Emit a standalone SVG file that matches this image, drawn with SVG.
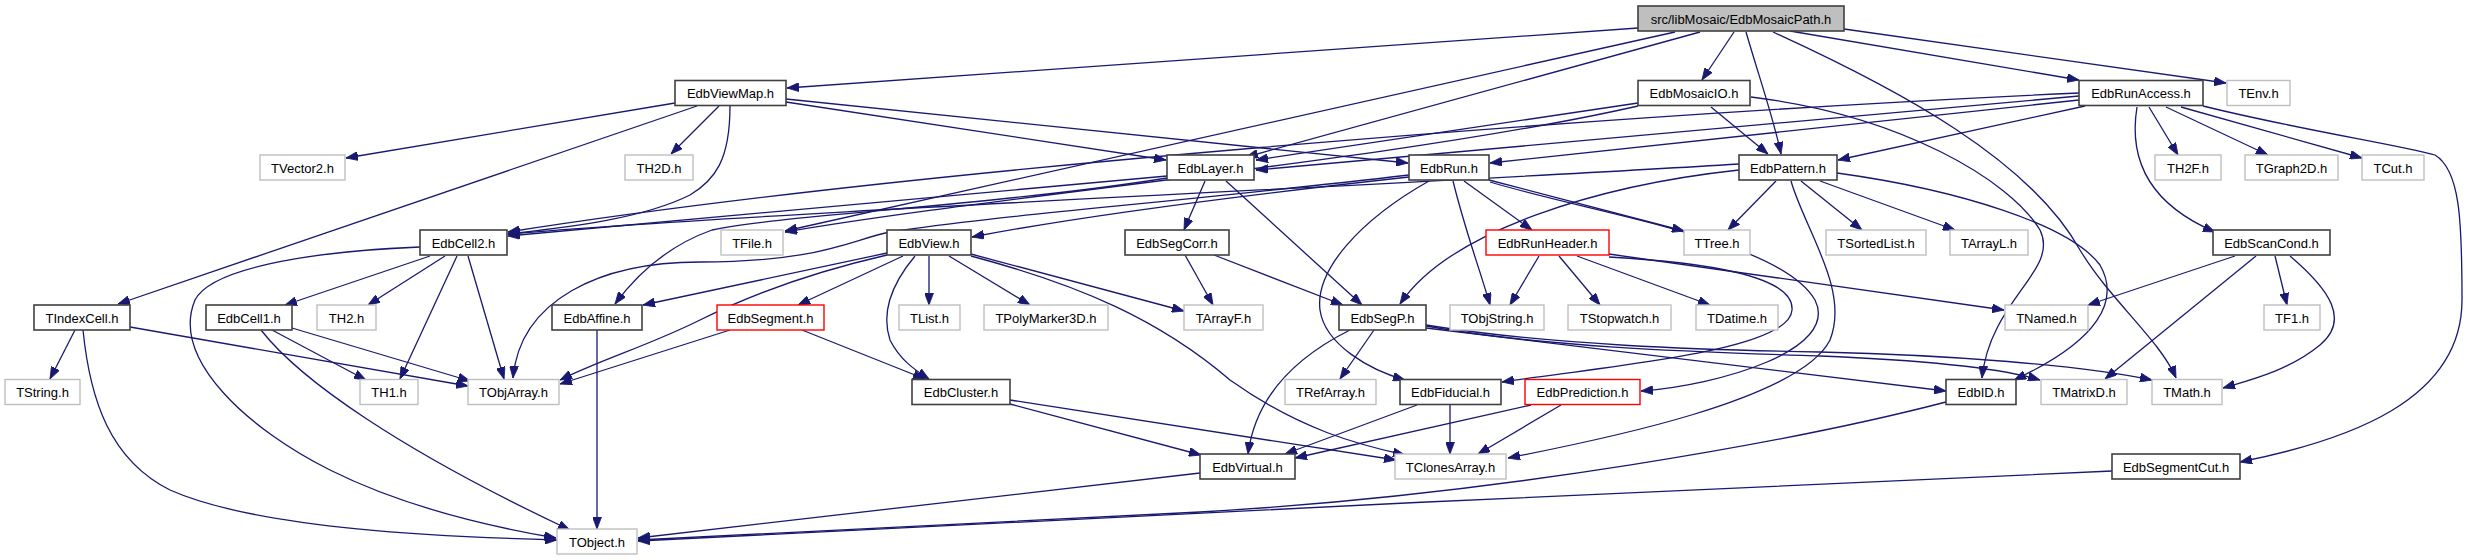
<svg xmlns="http://www.w3.org/2000/svg" width="2468" height="560" viewBox="0 0 2468 560">
<style>
.n rect{fill:#ffffff;stroke:#404040;stroke-width:1.6}
.g rect{fill:#ffffff;stroke:#bfbfbf;stroke-width:1.4}
.r rect{fill:#ffffff;stroke:#ff0000;stroke-width:1.4}
.m rect{fill:#bfbfbf;stroke:#404040;stroke-width:1.6}
text{font-family:"Liberation Sans",Arial,sans-serif;font-size:13px;fill:#000;text-anchor:middle}
#edges path{fill:none;stroke:#191970;stroke-width:1.3;marker-end:url(#ah)}
</style>
<defs>
<marker id="ah" viewBox="0 0 12 9" refX="12" refY="4.5" markerWidth="12" markerHeight="9" markerUnits="userSpaceOnUse" orient="auto"><path d="M0,0 L12,4.5 L0,9 Z" fill="#191970" stroke="#191970" stroke-width="0.8"/></marker>
</defs>
<rect width="2468" height="560" fill="#ffffff"/>
<g id="edges">
<path d="M1638,28 L787,88"/>
<path d="M1700,32 L1246,157"/>
<path d="M1675,32 L785,231"/>
<path d="M1734,32 L1702,80"/>
<path d="M1746,32 C1760,80 1774,120 1781,154"/>
<path d="M1790,31 L2079,80"/>
<path d="M1844,29 L2226,83"/>
<path d="M1773,32 C1900,90 2030,160 2080,250 C2110,300 2160,340 2176,378"/>
<path d="M1638,103 L1256,160"/>
<path d="M1638,106 C1400,160 1000,195 785,232"/>
<path d="M1711,107 L1768,154"/>
<path d="M1751,97 C1900,115 2010,180 2040,230 C2060,270 1990,300 1982,378"/>
<path d="M2079,96 L1256,170"/>
<path d="M2079,100 L1490,163"/>
<path d="M2079,93 C1600,115 900,170 508,232"/>
<path d="M2085,106 L1838,160"/>
<path d="M2149,107 L2178,155"/>
<path d="M2166,107 L2268,155"/>
<path d="M2181,107 L2362,158"/>
<path d="M2137,107 C2130,150 2140,200 2215,232"/>
<path d="M2203,106 C2300,130 2400,145 2435,155 C2460,170 2462,220 2462,300 C2462,400 2350,440 2240,462"/>
<path d="M675,103 L346,158"/>
<path d="M697,106 L118,304"/>
<path d="M719,106 L671,154"/>
<path d="M730,106 C730,160 715,180 690,195 C640,220 560,228 508,234"/>
<path d="M786,102 L1166,160"/>
<path d="M786,99 L1408,163"/>
<path d="M1167,176 L508,236"/>
<path d="M1167,178 C1000,205 780,215 712,230 C670,245 640,270 615,304"/>
<path d="M1205,181 L1184,230"/>
<path d="M1226,181 L1362,305"/>
<path d="M1409,177 C1200,200 1050,222 972,237"/>
<path d="M1409,175 C1150,205 1000,215 890,232 C850,240 820,262 700,262 C600,262 520,300 513,378"/>
<path d="M1489,180 L1684,231"/>
<path d="M1464,181 L1532,230"/>
<path d="M1453,181 C1465,230 1480,270 1490,305"/>
<path d="M1429,181 C1360,220 1315,270 1320,310 C1325,345 1370,370 1405,380"/>
<path d="M1490,182 C1600,215 1780,240 1815,300 C1840,350 1720,385 1641,391"/>
<path d="M1776,181 L1728,230"/>
<path d="M1801,181 L1862,230"/>
<path d="M1820,181 L1955,230"/>
<path d="M1739,170 C1600,185 1450,230 1400,304"/>
<path d="M1739,164 C1400,185 800,210 508,234"/>
<path d="M1791,181 C1805,230 1850,290 1830,340 C1800,400 1600,440 1508,458"/>
<path d="M1837,173 C1960,190 2070,225 2100,265 C2120,300 2100,340 2014,380"/>
<path d="M1539,256 L1510,305"/>
<path d="M1559,256 L1600,305"/>
<path d="M1577,256 L1710,305"/>
<path d="M1609,254 L2004,310"/>
<path d="M1609,257 C1700,262 1795,275 1792,310 C1790,350 1620,365 1502,382"/>
<path d="M2235,256 L2088,305"/>
<path d="M2256,256 L2105,379"/>
<path d="M2275,256 L2287,305"/>
<path d="M2290,256 C2330,290 2350,320 2320,345 C2290,370 2250,380 2223,388"/>
<path d="M430,256 L285,305"/>
<path d="M445,256 L368,305"/>
<path d="M457,256 L400,379"/>
<path d="M468,256 L504,379"/>
<path d="M420,247 C300,252 210,270 195,300 C170,360 250,430 330,470 C400,505 480,525 556,538"/>
<path d="M75,330 L50,379"/>
<path d="M130,327 L468,386"/>
<path d="M83,330 C90,400 110,460 170,490 C260,530 450,537 557,540"/>
<path d="M272,330 L366,380"/>
<path d="M292,328 L470,381"/>
<path d="M261,330 C300,380 400,450 570,530"/>
<path d="M597,330 L597,529"/>
<path d="M887,253 L643,305"/>
<path d="M887,255 C800,275 740,300 700,320 C650,345 600,360 560,380"/>
<path d="M903,256 L798,305"/>
<path d="M915,256 C895,280 880,310 890,340 C900,360 915,370 929,379"/>
<path d="M929,256 L929,305"/>
<path d="M949,256 L1030,305"/>
<path d="M971,254 L1184,311"/>
<path d="M971,256 C1080,285 1160,320 1230,380 C1300,430 1360,445 1405,455"/>
<path d="M730,330 L560,384"/>
<path d="M802,330 L925,379"/>
<path d="M1185,255 L1213,305"/>
<path d="M1214,255 L1343,305"/>
<path d="M1374,330 L1340,379"/>
<path d="M1350,330 C1290,360 1255,400 1248,454"/>
<path d="M1426,328 L1946,391"/>
<path d="M1426,326 C1550,348 1700,352 1820,356 C1920,360 2000,368 2040,380"/>
<path d="M1426,325 C1550,345 1700,350 1820,352 C1950,355 2080,365 2152,380"/>
<path d="M1417,405 L1285,454"/>
<path d="M1450,405 L1450,454"/>
<path d="M1531,405 L1295,458"/>
<path d="M1561,405 L1478,454"/>
<path d="M1010,404 L1201,455"/>
<path d="M1010,400 L1396,460"/>
<path d="M1200,473 L638,538"/>
<path d="M1946,402 C1800,440 1500,495 1200,512 C900,528 700,536 638,540"/>
<path d="M2112,471 C1700,490 1000,520 638,541"/>
</g>
<g id="n_main" class="m"><rect x="1638" y="6" width="206" height="25"/><text x="1741" y="23.5">src/libMosaic/EdbMosaicPath.h</text></g>
<g id="n_EdbViewMap" class="n"><rect x="675" y="80.5" width="111" height="25"/><text x="730.5" y="98">EdbViewMap.h</text></g>
<g id="n_EdbMosaicIO" class="n"><rect x="1638" y="80.5" width="112" height="25"/><text x="1694" y="98">EdbMosaicIO.h</text></g>
<g id="n_EdbRunAccess" class="n"><rect x="2079" y="80.5" width="124" height="25"/><text x="2141" y="98">EdbRunAccess.h</text></g>
<g id="n_TEnv" class="g"><rect x="2227" y="80.5" width="63" height="25"/><text x="2258.5" y="98">TEnv.h</text></g>
<g id="n_TVector2" class="g"><rect x="260" y="155" width="85" height="25"/><text x="302.5" y="172.5">TVector2.h</text></g>
<g id="n_TH2D" class="g"><rect x="625" y="155" width="68" height="25"/><text x="659" y="172.5">TH2D.h</text></g>
<g id="n_EdbLayer" class="n"><rect x="1167" y="155" width="87" height="25"/><text x="1210.5" y="172.5">EdbLayer.h</text></g>
<g id="n_EdbRun" class="n"><rect x="1409" y="155" width="80" height="25"/><text x="1449" y="172.5">EdbRun.h</text></g>
<g id="n_EdbPattern" class="n"><rect x="1739" y="155" width="98" height="25"/><text x="1788" y="172.5">EdbPattern.h</text></g>
<g id="n_TH2F" class="g"><rect x="2155" y="155" width="66" height="25"/><text x="2188" y="172.5">TH2F.h</text></g>
<g id="n_TGraph2D" class="g"><rect x="2245" y="155" width="93" height="25"/><text x="2291.5" y="172.5">TGraph2D.h</text></g>
<g id="n_TCut" class="g"><rect x="2362" y="155" width="62" height="25"/><text x="2393" y="172.5">TCut.h</text></g>
<g id="n_EdbCell2" class="n"><rect x="420" y="230" width="87" height="25"/><text x="463.5" y="247.5">EdbCell2.h</text></g>
<g id="n_TFile" class="g"><rect x="721" y="230" width="62" height="25"/><text x="752" y="247.5">TFile.h</text></g>
<g id="n_EdbView" class="n"><rect x="887" y="230" width="84" height="25"/><text x="929" y="247.5">EdbView.h</text></g>
<g id="n_EdbSegCorr" class="n"><rect x="1125" y="230" width="104" height="25"/><text x="1177" y="247.5">EdbSegCorr.h</text></g>
<g id="n_EdbRunHeader" class="r"><rect x="1486" y="230" width="123" height="25"/><text x="1547.5" y="247.5">EdbRunHeader.h</text></g>
<g id="n_TTree" class="g"><rect x="1684" y="230" width="66" height="25"/><text x="1717" y="247.5">TTree.h</text></g>
<g id="n_TSortedList" class="g"><rect x="1826" y="230" width="100" height="25"/><text x="1876" y="247.5">TSortedList.h</text></g>
<g id="n_TArrayL" class="g"><rect x="1950" y="230" width="78" height="25"/><text x="1989" y="247.5">TArrayL.h</text></g>
<g id="n_EdbScanCond" class="n"><rect x="2213" y="230" width="117" height="25"/><text x="2271.5" y="247.5">EdbScanCond.h</text></g>
<g id="n_TIndexCell" class="n"><rect x="34" y="305" width="96" height="25"/><text x="82" y="322.5">TIndexCell.h</text></g>
<g id="n_EdbCell1" class="n"><rect x="206" y="305" width="86" height="25"/><text x="249" y="322.5">EdbCell1.h</text></g>
<g id="n_TH2" class="g"><rect x="317" y="305" width="59" height="25"/><text x="346.5" y="322.5">TH2.h</text></g>
<g id="n_EdbAffine" class="n"><rect x="552" y="305" width="90" height="25"/><text x="597" y="322.5">EdbAffine.h</text></g>
<g id="n_EdbSegment" class="r"><rect x="717" y="305" width="107" height="25"/><text x="770.5" y="322.5">EdbSegment.h</text></g>
<g id="n_TList" class="g"><rect x="899" y="305" width="61" height="25"/><text x="929.5" y="322.5">TList.h</text></g>
<g id="n_TPolyMarker3D" class="g"><rect x="984" y="305" width="124" height="25"/><text x="1046" y="322.5">TPolyMarker3D.h</text></g>
<g id="n_TArrayF" class="g"><rect x="1184" y="305" width="79" height="25"/><text x="1223.5" y="322.5">TArrayF.h</text></g>
<g id="n_EdbSegP" class="n"><rect x="1339" y="305" width="87" height="25"/><text x="1382.5" y="322.5">EdbSegP.h</text></g>
<g id="n_TObjString" class="g"><rect x="1450" y="305" width="94" height="25"/><text x="1497" y="322.5">TObjString.h</text></g>
<g id="n_TStopwatch" class="g"><rect x="1568" y="305" width="103" height="25"/><text x="1619.5" y="322.5">TStopwatch.h</text></g>
<g id="n_TDatime" class="g"><rect x="1696" y="305" width="82" height="25"/><text x="1737" y="322.5">TDatime.h</text></g>
<g id="n_TNamed" class="g"><rect x="2005" y="305" width="83" height="25"/><text x="2046.5" y="322.5">TNamed.h</text></g>
<g id="n_TF1" class="g"><rect x="2264" y="305" width="56" height="25"/><text x="2292" y="322.5">TF1.h</text></g>
<g id="n_TString" class="g"><rect x="5" y="379.5" width="75" height="25"/><text x="42.5" y="397">TString.h</text></g>
<g id="n_TH1" class="g"><rect x="360" y="379.5" width="58" height="25"/><text x="389" y="397">TH1.h</text></g>
<g id="n_TObjArray" class="g"><rect x="468" y="379.5" width="91" height="25"/><text x="513.5" y="397">TObjArray.h</text></g>
<g id="n_EdbCluster" class="n"><rect x="912" y="379.5" width="98" height="25"/><text x="961" y="397">EdbCluster.h</text></g>
<g id="n_TRefArray" class="g"><rect x="1285" y="379.5" width="91" height="25"/><text x="1330.5" y="397">TRefArray.h</text></g>
<g id="n_EdbFiducial" class="n"><rect x="1400" y="379.5" width="101" height="25"/><text x="1450.5" y="397">EdbFiducial.h</text></g>
<g id="n_EdbPrediction" class="r"><rect x="1525" y="379.5" width="115" height="25"/><text x="1582.5" y="397">EdbPrediction.h</text></g>
<g id="n_EdbID" class="n"><rect x="1946" y="379.5" width="70" height="25"/><text x="1981" y="397">EdbID.h</text></g>
<g id="n_TMatrixD" class="g"><rect x="2041" y="379.5" width="86" height="25"/><text x="2084" y="397">TMatrixD.h</text></g>
<g id="n_TMath" class="g"><rect x="2152" y="379.5" width="70" height="25"/><text x="2187" y="397">TMath.h</text></g>
<g id="n_EdbVirtual" class="n"><rect x="1200" y="454" width="95" height="25"/><text x="1247.5" y="471.5">EdbVirtual.h</text></g>
<g id="n_TClonesArray" class="g"><rect x="1395" y="454" width="111" height="25"/><text x="1450.5" y="471.5">TClonesArray.h</text></g>
<g id="n_EdbSegmentCut" class="n"><rect x="2112" y="454" width="128" height="25"/><text x="2176" y="471.5">EdbSegmentCut.h</text></g>
<g id="n_TObject" class="g"><rect x="557" y="529" width="80" height="25"/><text x="597" y="546.5">TObject.h</text></g>
</svg>
